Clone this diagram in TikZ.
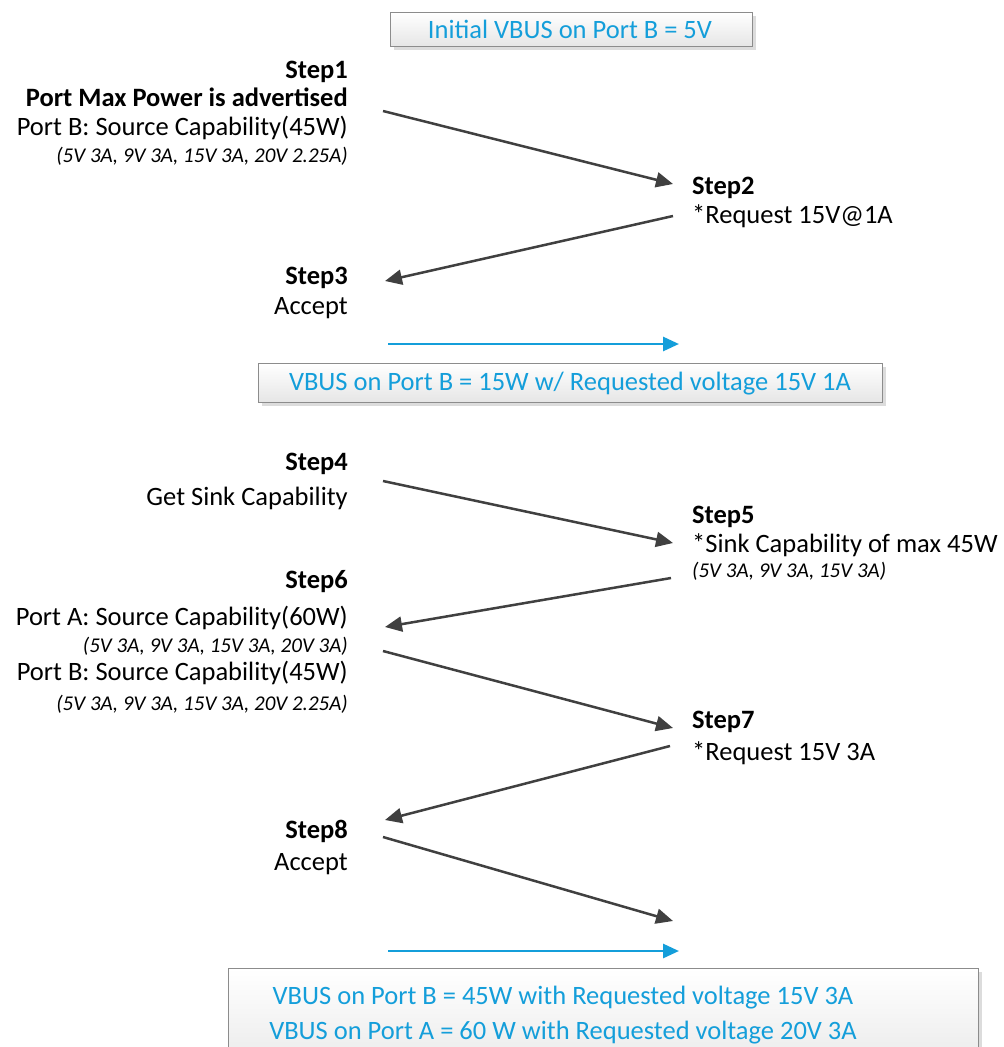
\documentclass[tikz,border=0pt]{standalone}
\usepackage{fontspec}
\setmainfont{Carlito}
\usetikzlibrary{arrows.meta,shadows}
\definecolor{vblue}{RGB}{20,158,218}
\definecolor{arrgray}{RGB}{64,64,64}
\definecolor{boxedge}{RGB}{140,140,140}
\tikzset{
  lineR/.style={anchor=base east, inner sep=0pt, font=\fontsize{26.5}{30}\selectfont},
  lineL/.style={anchor=base west, inner sep=0pt, font=\fontsize{26.5}{30}\selectfont},
  boldR/.style={lineR, font=\fontsize{26.5}{30}\selectfont\bfseries},
  boldL/.style={lineL, font=\fontsize{26.5}{30}\selectfont\bfseries},
  italR/.style={anchor=base east, inner sep=0pt, font=\fontsize{21}{24}\selectfont\itshape},
  italL/.style={anchor=base west, inner sep=0pt, font=\fontsize{21}{24}\selectfont\itshape},
  flow/.style={draw=arrgray, line width=2.5pt, -{Triangle[length=17pt,width=15pt]}, arrgray},
  vflow/.style={draw=vblue, line width=2.8pt, -{Triangle[length=16pt,width=14pt]}, vblue},
  vbox/.style={draw=boxedge, line width=1pt, top color=white, bottom color=gray!20,
    drop shadow={shadow xshift=3pt, shadow yshift=-3pt, fill=gray!45, opacity=0.6},
    inner sep=0pt, anchor=north west},
  vtext/.style={text=vblue, font=\fontsize{26.5}{35}\selectfont, inner sep=0pt, align=center}
}
\begin{document}
\begin{tikzpicture}[x=1pt,y=-1pt]
\clip (0,0) rectangle (1004,1047);
\fill[white] (0,0) rectangle (1004,1047);

% boxes
\node[vbox, minimum width=362pt, minimum height=34pt] (box1) at (390,12) {};
\node[vtext] (t1) at (570,29) {Initial VBUS on Port B = 5V};
\node[vbox, minimum width=624pt, minimum height=39pt] (box2) at (258,363) {};
\node[vtext] (t2) at (570,384) {VBUS on Port B = 15W w/ Requested voltage 15V 1A};
\node[vbox, minimum width=750pt, minimum height=120pt] (box3) at (228,968) {};
\node[vtext] (t3) at (563,1015) {VBUS on Port B = 45W with Requested voltage 15V 3A\\VBUS on Port A = 60 W with Requested voltage 20V 3A};

% left side texts
\node[boldR] (s1a) at (348,78) {Step1};
\node[boldR] (s1b) at (348,106) {Port Max Power is advertised};
\node[lineR] (s1c) at (348,135) {Port B: Source Capability(45W)};
\node[italR] (s1d) at (348,162) {(5V 3A, 9V 3A, 15V 3A, 20V 2.25A)};
\node[boldR] (s3a) at (348,284) {Step3};
\node[lineR] (s3b) at (348,314) {Accept};
\node[boldR] (s4a) at (348,470) {Step4};
\node[lineR] (s4b) at (348,505) {Get Sink Capability};
\node[boldR] (s6a) at (348,588) {Step6};
\node[lineR] (s6b) at (348,625) {Port A: Source Capability(60W)};
\node[italR] (s6c) at (348,652) {(5V 3A, 9V 3A, 15V 3A, 20V 3A)};
\node[lineR] (s6d) at (348,680) {Port B: Source Capability(45W)};
\node[italR] (s6e) at (348,710) {(5V 3A, 9V 3A, 15V 3A, 20V 2.25A)};
\node[boldR] (s8a) at (348,838) {Step8};
\node[lineR] (s8b) at (348,870) {Accept};

% right side texts
\node[boldL] (s2a) at (692,194) {Step2};
\node[lineL] (s2b) at (692,223) {*Request 15V@1A};
\node[boldL] (s5a) at (692,523) {Step5};
\node[lineL] (s5b) at (692,552) {*Sink Capability of max 45W};
\node[italL] (s5c) at (692,577) {(5V 3A, 9V 3A, 15V 3A)};
\node[boldL] (s7a) at (692,728) {Step7};
\node[lineL] (s7b) at (692,760) {*Request 15V 3A};

% connector end points
\coordinate (a1s) at (383,111);
\coordinate (a1e) at (673,184);
\coordinate (a2s) at (673,216);
\coordinate (a2e) at (385,281);
\coordinate (a3s) at (383,481);
\coordinate (a3e) at (673,543);
\coordinate (a4s) at (671,578);
\coordinate (a4e) at (385,627);
\coordinate (a5s) at (383,651);
\coordinate (a5e) at (673,728);
\coordinate (a6s) at (670,746);
\coordinate (a6e) at (385,820);
\coordinate (a7s) at (383,837);
\coordinate (a7e) at (673,921);
\coordinate (b1s) at (388,344);
\coordinate (b1e) at (679,344);
\coordinate (b2s) at (388,951);
\coordinate (b2e) at (679,951);

\draw[flow] (a1s) -- (a1e);
\draw[flow] (a2s) -- (a2e);
\draw[flow] (a3s) -- (a3e);
\draw[flow] (a4s) -- (a4e);
\draw[flow] (a5s) -- (a5e);
\draw[flow] (a6s) -- (a6e);
\draw[flow] (a7s) -- (a7e);
\draw[vflow] (b1s) -- (b1e);
\draw[vflow] (b2s) -- (b2e);
\end{tikzpicture}
\end{document}
